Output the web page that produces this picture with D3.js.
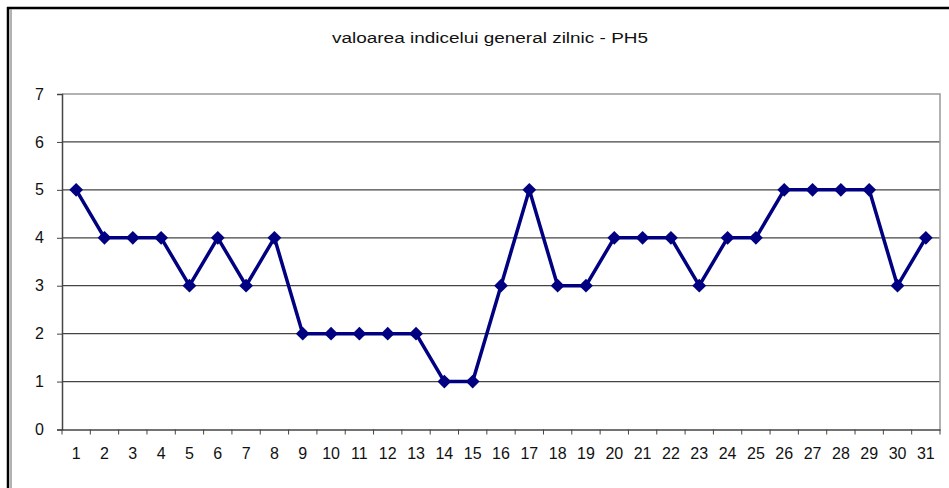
<!DOCTYPE html>
<html>
<head>
<meta charset="utf-8">
<script src="https://cdn.jsdelivr.net/npm/d3@7"></script>
<style>
body { margin: 0; background: #fff; }
text { font-family: Arial, "Liberation Sans", sans-serif; fill: #111; }
</style>
</head>
<body>
<script>
// zilele lunii si valoarea indicelui
const days = d3.range(1, 32).map(String)
const values = [5, 4, 4, 4, 3, 4, 3, 4, 2, 2, 2, 2, 2, 1, 1, 3, 5, 3, 3, 4, 4, 4, 3, 4, 4, 5, 5, 5, 5, 3, 4]
const yTicks = [0, 1, 2, 3, 4, 5, 6, 7]
const title = 'valoarea indicelui general zilnic -  PH5'

const W = 949, H = 488
const m = {top: 94, right: 9, bottom: 58.5, left: 62}

const svg = d3.select('body').append('svg')
    .attr('width', W)
    .attr('height', H)

// chenarul exterior
svg.append('line').attr('x1', 7).attr('x2', W).attr('y1', 8).attr('y2', 8)
    .attr('stroke', '#000').attr('stroke-width', 2.5)
svg.append('line').attr('x1', 8).attr('x2', 8).attr('y1', 7).attr('y2', H)
    .attr('stroke', '#000').attr('stroke-width', 2.5)
svg.append('line').attr('x1', 11).attr('x2', 11).attr('y1', 9).attr('y2', H)
    .attr('stroke', '#999').attr('stroke-width', 1.5)

const x = d3.scaleBand()
    .domain(days)
    .range([m.left, W - m.right])

const y = d3.scaleLinear()
    .domain([0, 7])
    .range([H - m.bottom, m.top])

// gridlines
svg.append('g')
    .selectAll('line')
    .data(yTicks.filter(d => d > 0 && d < 7))
    .enter().append('line')
    .attr('x1', m.left).attr('x2', W - m.right)
    .attr('y1', d => y(d)).attr('y2', d => y(d))
    .attr('stroke', '#444').attr('stroke-width', 1.3)

// plot border (top + right)
svg.append('path')
    .attr('d', 'M' + m.left + ',' + y(7) + 'H' + (W - m.right) + 'V' + y(0))
    .attr('fill', 'none')
    .attr('stroke', '#999').attr('stroke-width', 1.5)

// y axis
const yAxis = svg.append('g')
    .attr('transform', 'translate(' + m.left + ',0)')
    .call(d3.axisLeft(y).tickValues(yTicks).tickSize(5).tickPadding(13).tickFormat(d3.format('d')))
yAxis.select('.domain').attr('stroke', '#444').attr('stroke-width', 1.5)
yAxis.selectAll('.tick line').attr('stroke', '#444')
yAxis.selectAll('text').style('font-size', '16px').attr('fill', '#111')

// x axis
const xAxis = svg.append('g')
    .attr('transform', 'translate(0,' + y(0) + ')')
    .call(d3.axisBottom(x).tickSize(0).tickPadding(18))
xAxis.select('.domain').attr('stroke', '#444').attr('stroke-width', 1.5)
xAxis.selectAll('text').style('font-size', '16px').attr('fill', '#111')
xAxis.selectAll('.bound')
    .data(d3.range(days.length + 1))
    .enter().append('line')
    .attr('x1', i => m.left + i * x.step()).attr('x2', i => m.left + i * x.step())
    .attr('y1', 0).attr('y2', 5)
    .attr('stroke', '#444')

// linia seriei
const cx = d => x(d) + x.bandwidth() / 2
const line = d3.line()
    .x((d, i) => cx(days[i]))
    .y(d => y(d))

svg.append('path')
    .datum(values)
    .attr('d', line)
    .attr('fill', 'none')
    .attr('stroke', '#000080')
    .attr('stroke-width', 3.5)
    .attr('stroke-linejoin', 'round')

svg.append('g')
    .selectAll('path')
    .data(values)
    .enter().append('path')
    .attr('d', d3.symbol(d3.symbolSquare, 95))
    .attr('transform', (d, i) => 'translate(' + cx(days[i]) + ',' + y(d) + ') rotate(45)')
    .attr('fill', '#000080')

svg.append('text')
    .attr('x', 490)
    .attr('y', 43)
    .attr('text-anchor', 'middle')
    .attr('textLength', 316)
    .attr('lengthAdjust', 'spacingAndGlyphs')
    .style('font-size', '15.5px')
    .text(title)
</script>
</body>
</html>
